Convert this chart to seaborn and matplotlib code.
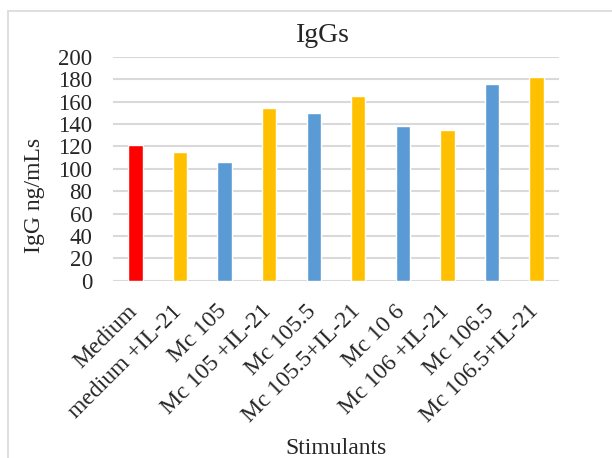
import seaborn as sns
import matplotlib.pyplot as plt
import pandas as pd
from matplotlib.lines import Line2D
from matplotlib.transforms import ScaledTranslation

stimulants = ["Medium", "medium +IL-21", "Mc 105", "Mc 105 +IL-21", "Mc 105.5",
              "Mc 105.5+IL-21", "Mc 10 6", "Mc 106 +IL-21", "Mc 106.5", "Mc 106.5+IL-21"]
igg = [121, 115, 106, 154, 149.5, 165, 138.5, 134.5, 175.5, 182]
colors = ["#FF0000", "#FFC000", "#5B9BD5", "#FFC000", "#5B9BD5",
          "#FFC000", "#5B9BD5", "#FFC000", "#5B9BD5", "#FFC000"]


def plot_bars():
    sns.set_style("white")
    plt.rcParams['font.family'] = ['Liberation Serif', 'DejaVu Serif']
    df = pd.DataFrame({"Stimulants": stimulants, "IgG": igg})

    fig = plt.figure(figsize=(6.12, 4.58), dpi=100)
    ax = fig.add_axes([0.185, 0.387, 0.728, 0.489])
    sns.barplot(data=df, x="Stimulants", y="IgG", hue="Stimulants",
                palette=colors, saturation=1, width=0.32, legend=False, ax=ax, zorder=3)

    ax.set_ylim(0, 200)
    ax.set_yticks(range(0, 201, 20))
    ax.yaxis.grid(True, color="#d9d9d9", linewidth=1.5, zorder=0)
    ax.set_axisbelow(True)
    for s in ax.spines.values():
        s.set_visible(False)
    ax.tick_params(axis="y", length=0, labelsize=16.5, pad=15)
    ax.tick_params(axis="x", length=0, labelsize=17, pad=22.5)
    # Excel-style 45 degree labels, text ends just under the bar
    shift = ScaledTranslation(2 / 72, 0, fig.dpi_scale_trans)
    for lab in ax.get_xticklabels():
        lab.set_rotation(45)
        lab.set_ha("right")
        lab.set_va("baseline")
        lab.set_rotation_mode("anchor")
        lab.set_transform(lab.get_transform() + shift)

    ax.set_title("IgGs", fontsize=20, pad=10.8, x=0.471)
    ax.set_ylabel("IgG ng/mLs", fontsize=17)
    ax.yaxis.set_label_coords(-0.152, 0.383)
    ax.set_xlabel("Stimulants", fontsize=17, va="baseline")
    ax.xaxis.set_label_coords(0.5, -0.774)

    # chart frame (only left and top edges are visible in the crop)
    fig.lines.append(Line2D([7.5 / 612, 7.5 / 612], [0, 1 - 11 / 458], transform=fig.transFigure,
                            color="#d9d9d9", linewidth=1.2))
    fig.lines.append(Line2D([7.5 / 612, 1], [1 - 11 / 458, 1 - 11 / 458], transform=fig.transFigure,
                            color="#d9d9d9", linewidth=1.2))
    fig.savefig("out.png", dpi=100)


if __name__ == "__main__":
    plot_bars()
